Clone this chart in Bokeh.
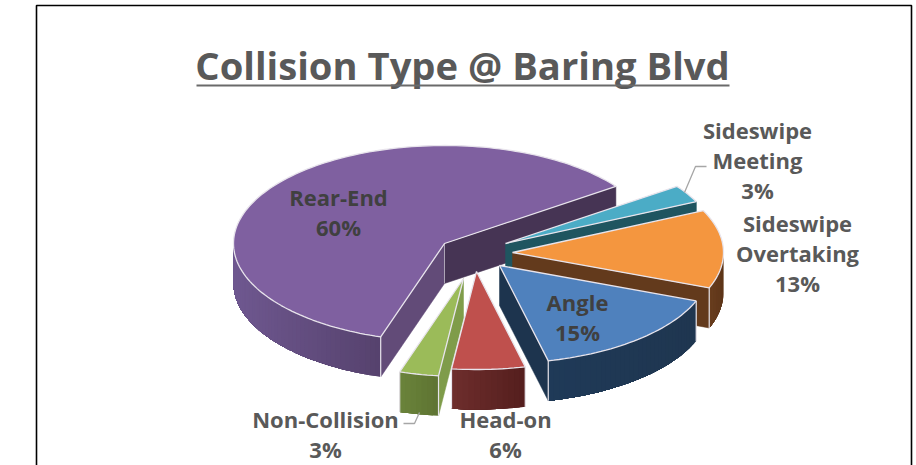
import math
from bokeh.plotting import figure
from bokeh.embed import file_html
from bokeh.resources import INLINE
from bokeh.core.properties import value

W, H = 916, 465

# ---- data ----
categories = ["Rear-End", "Sideswipe\nMeeting", "Sideswipe\nOvertaking", "Angle", "Head-on", "Non-Collision"]
percents = [60.2, 2.9, 12.9, 15.4, 5.6, 3.0]
title_text = "Collision Type @ Baring Blvd"

# ---- styles / layout ----
top_colors = ["#7f60a0", "#4bacc6", "#f4963f", "#4f81bd", "#bf504d", "#9bbb59"]
wall_left = ["#6f5890", "#215967", "#6a3e1e", "#1f3a58", "#6f2e2d", "#6b843b"]
wall_right = ["#56426e", "#215967", "#5e3619", "#1f3650", "#551f1e", "#5f7533"]
cut_start = ["#624b78", "#1f5560", "#633a1c", "#1d344e", "#632523", "#7f9c4a"]
cut_end = ["#463454", "#1f5560", "#633a1c", "#1d344e", "#632523", "#7f9c4a"]
apex = [(444, 243), (505, 243), (512, 252), (499, 265), (476, 271), (463, 278)]
RX, RY, DEPTH = 211, 98, 40
START = 252.4  # parametric angle where the first slice starts; slices run clockwise
order = [0, 1, 2, 3, 5, 4]
EDGE = "#e8e4ec"

p = figure(width=W, height=H, x_range=(0, W), y_range=(H, 0), output_backend="svg",
           toolbar_location=None, min_border=0, outline_line_color=None)
p.axis.visible = False
p.grid.visible = False
p.background_fill_color = "white"
p.border_fill_color = "white"
p.styles = {"position": "absolute", "left": "0px", "top": "0px"}

# frame
p.line([36, 36, 911, 911], [H, 5, 5, H], line_color="#000000", line_width=1.6)


def mix(c1, c2, t):
    a = [int(c1[i:i + 2], 16) for i in (1, 3, 5)]
    b = [int(c2[i:i + 2], 16) for i in (1, 3, 5)]
    return "#%02x%02x%02x" % tuple(round(u + (v - u) * t) for u, v in zip(a, b))


# angles from the values
angles = []
a = START
for v in percents:
    b = a - v * 3.6
    angles.append((a, b))
    a = b


def pt(i, ang):
    cx, cy = apex[i]
    r = math.radians(ang)
    return cx + RX * math.cos(r), cy - RY * math.sin(r)


for i in order:
    cx, cy = apex[i]
    a0, a1 = angles[i]  # a0 > a1, clockwise
    # cut faces
    for ang, col in ((a0, cut_start[i]), (a1, cut_end[i])):
        x, y = pt(i, ang)
        dx, dy = x - cx, y - cy
        mid = math.radians((a0 + a1) / 2)
        mx, my = RX * math.cos(mid), -RY * math.sin(mid)
        nx, ny = -dy, dx
        if nx * mx + ny * my > 0:
            nx, ny = -nx, -ny
        if ny > 0:
            p.patch([cx, x, x, cx], [cy, y, y + DEPTH, cy + DEPTH], fill_color=col,
                    line_color=col, line_width=0.5)
    # outer wall: front half of the rim, painted as overlapping bands so no seams show
    n = max(2, int((a0 - a1) / 1.5))
    samples = [a0 - (a0 - a1) * k / n for k in range(n + 1)]
    samples = [u for u in samples if math.sin(math.radians(u)) <= 0]
    if len(samples) >= 2:
        pts = [pt(i, u) for u in samples]
        xvals = [q[0] for q in pts]
        xmin, xmax = min(xvals), max(xvals)
        wx, wy, cols = [], [], []
        for k in range(len(pts) - 1):
            rest = pts[k:]
            wx.append([q[0] for q in rest] + [q[0] for q in reversed(rest)])
            wy.append([q[1] for q in rest] + [q[1] + DEPTH for q in reversed(rest)])
            cols.append(mix(wall_left[i], wall_right[i], (pts[k][0] - xmin) / max(1, xmax - xmin)))
        p.patches(wx, wy, fill_color=cols, line_color=None)
    # top face
    n = max(3, int((a0 - a1) / 1.5))
    rim = [pt(i, a0 - (a0 - a1) * k / n) for k in range(n + 1)]
    xs = [cx] + [q[0] for q in rim]
    ys = [cy] + [q[1] for q in rim]
    # corner verticals
    for ang in (a0, a1):
        x, y = pt(i, ang)
        if math.sin(math.radians(ang)) < 0:
            p.line([x, x], [y, y + DEPTH], line_color=EDGE, line_width=1.2)
    if i == 0:
        p.line([cx, cx], [cy, cy + DEPTH], line_color=EDGE, line_width=1, line_alpha=0.6)
    p.patch(xs, ys, fill_color=top_colors[i], line_color=EDGE, line_width=1.3)

# leader lines
p.line([403, 414, 419], [423, 423, 412], line_color="#a6a6a6", line_width=1.3)
p.line([706, 695, 684], [166, 166, 192], line_color="#a6a6a6", line_width=1.3)

# title
p.text([462], [64], text=[title_text], text_font=value("Open Sans"), text_font_style="bold",
       text_font_size="38.2px", text_color="#595959", text_align="center", text_baseline="middle")
p.line([196, 729], [85, 85], line_color="#6a6a6a", line_width=2)

# data labels
label_pos = [(338, 196, "#404040"), (757, 129, "#595959"), (797, 222, "#595959"),
             (577, 301, "#404040"), (505, 418, "#595959"), (325, 418, "#595959")]
LH = 30
for (lx, ly, col), cat, pc in zip(label_pos, categories, percents):
    lines = cat.split("\n") + [f"{round(pc)}%"]
    for j, t in enumerate(lines):
        p.text([lx], [ly + j * LH], text=[t], text_font=value("Open Sans"), text_font_style="bold",
               text_font_size="22px", text_color=col, text_align="center", text_baseline="middle")

open("out.html", "w").write(file_html(p, INLINE))
